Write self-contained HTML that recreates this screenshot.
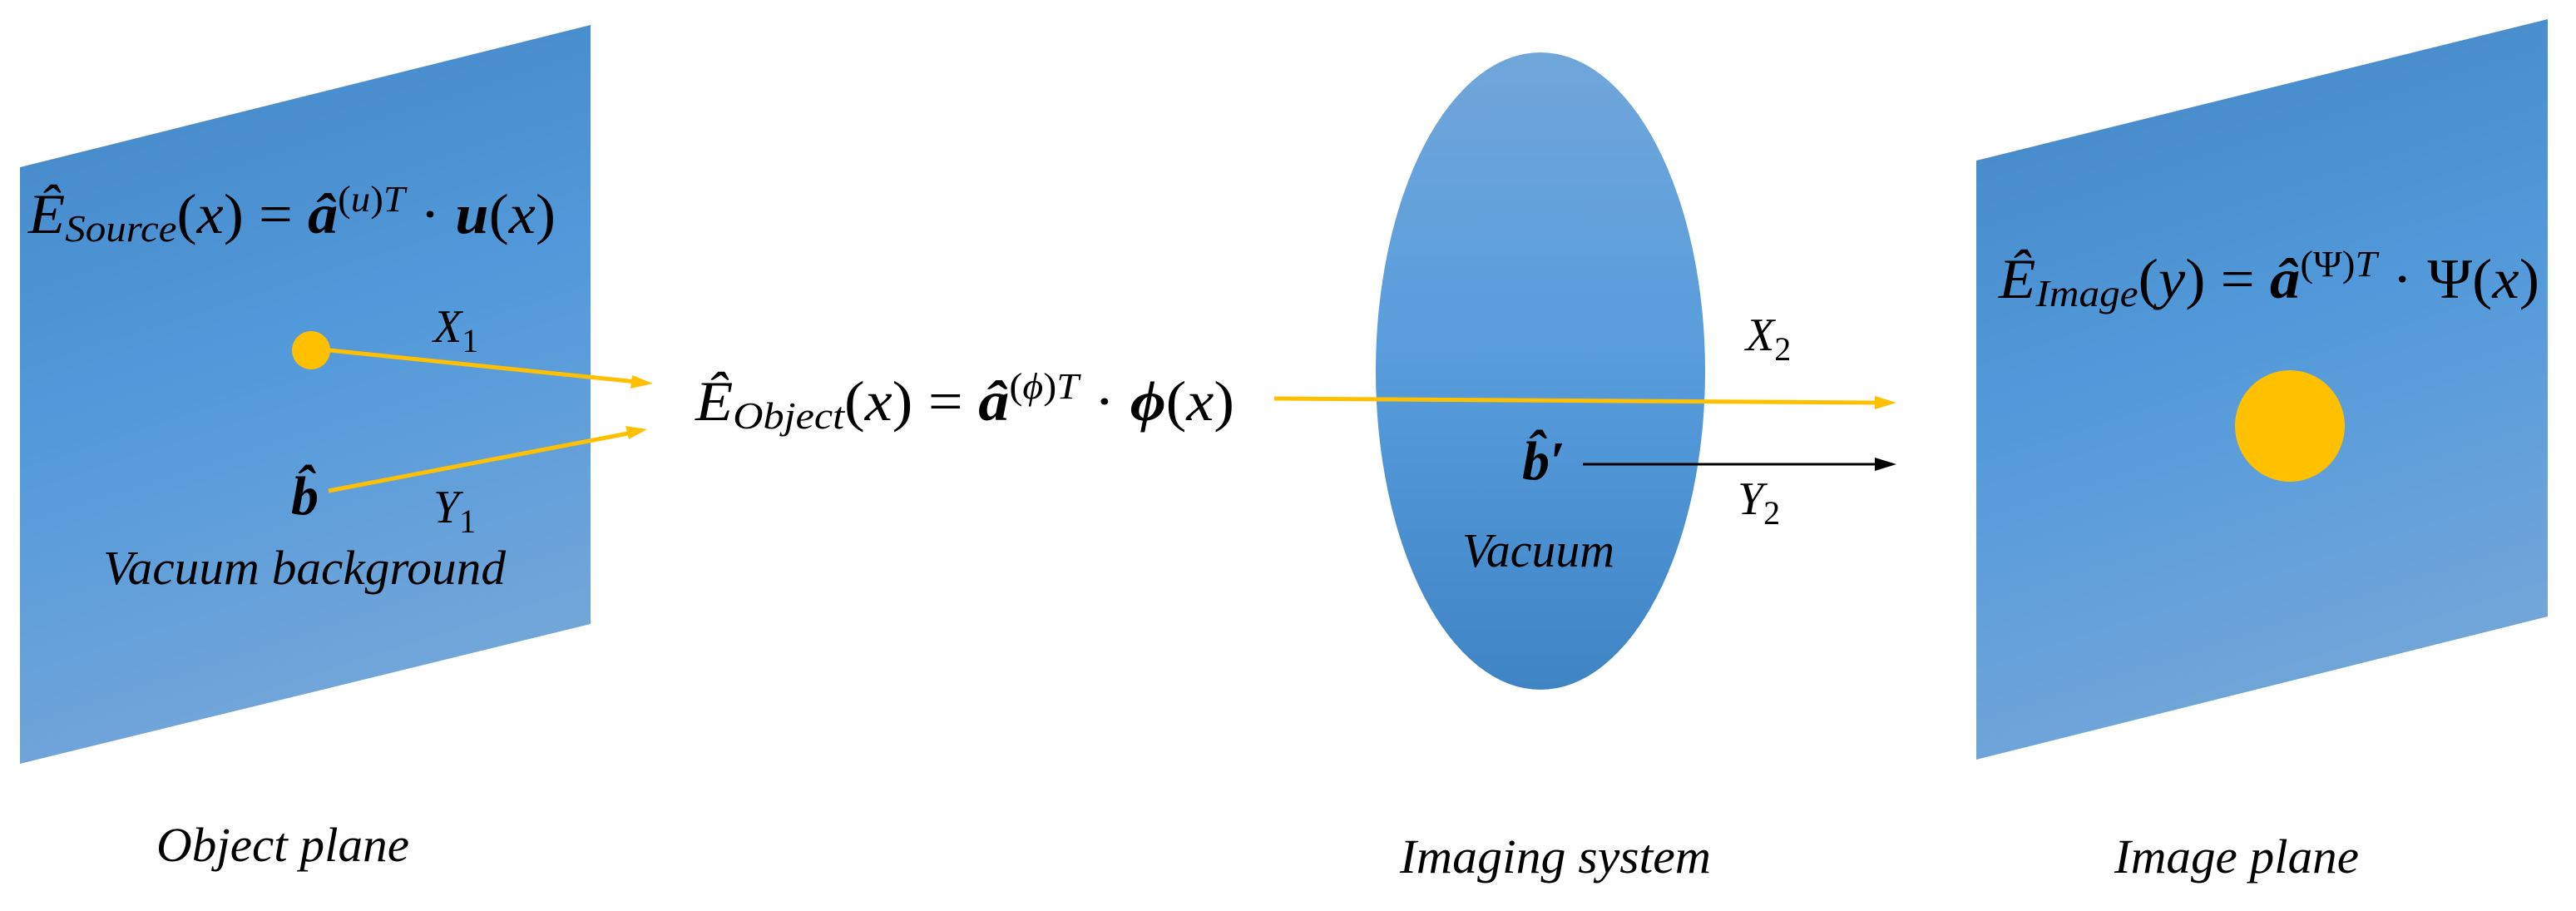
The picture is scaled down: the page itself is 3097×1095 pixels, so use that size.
<!DOCTYPE html>
<html><head><meta charset="utf-8"><style>
html,body{margin:0;padding:0;background:#fff;}
svg{display:block;}
svg text{font-family:"Liberation Serif","DejaVu Serif",serif;fill:#000;}
</style></head><body>
<svg width="3097" height="1095" viewBox="0 0 3097 1095" xmlns="http://www.w3.org/2000/svg" font-family="'Liberation Serif', 'DejaVu Serif', serif">
<defs>
<linearGradient id="pl" x1="0" y1="0" x2="0.25" y2="1">
<stop offset="0" stop-color="#4385c4"/><stop offset="0.5" stop-color="#5199da"/><stop offset="1" stop-color="#72a6d9"/>
</linearGradient>
<linearGradient id="el" x1="0" y1="0" x2="0" y2="1">
<stop offset="0" stop-color="#70a6da"/><stop offset="0.5" stop-color="#569cdc"/><stop offset="1" stop-color="#3f84c4"/>
</linearGradient>
</defs>
<polygon points="24,201 710,30 710,750 24,918" fill="url(#pl)"/>
<polygon points="2376,193 3063,23 3063,741 2376,913" fill="url(#pl)"/>
<ellipse cx="1852" cy="446" rx="198" ry="383" fill="url(#el)"/>

<circle cx="374" cy="421" r="23" fill="#ffc000"/>
<ellipse cx="2753" cy="512" rx="66" ry="67" fill="#ffc000"/>

<g stroke="#ffc000" stroke-width="5" fill="none">
<line x1="396" y1="421" x2="765" y2="459"/>
<line x1="395" y1="590" x2="760" y2="520"/>
<line x1="1532" y1="479" x2="2255" y2="484"/>
</g>
<polygon points="785,461 760,451 758,467" fill="#ffc000"/>
<polygon points="778,516 752,512 756,528" fill="#ffc000"/>
<polygon points="2280,484 2254,476 2254,492" fill="#ffc000"/>
<line x1="1903" y1="558" x2="2255" y2="558" stroke="#000" stroke-width="3"/>
<polygon points="2280,558 2254,550 2254,566" fill="#000"/>

<text x="34" y="280" font-size="68" textLength="634" lengthAdjust="spacingAndGlyphs"><tspan font-style="italic">Ê</tspan><tspan font-style="italic" font-size="46" dy="10">Source</tspan><tspan dy="-10">(</tspan><tspan font-style="italic">x</tspan>) = <tspan font-weight="bold" font-style="italic">â</tspan><tspan font-size="44" dy="-26">(<tspan font-style="italic">u</tspan>)<tspan font-style="italic">T</tspan></tspan><tspan dy="26"> · </tspan><tspan font-weight="bold" font-style="italic">u</tspan>(<tspan font-style="italic">x</tspan>)</text>

<text x="836" y="505" font-size="68" textLength="648" lengthAdjust="spacingAndGlyphs"><tspan font-style="italic">Ê</tspan><tspan font-style="italic" font-size="46" dy="10">Object</tspan><tspan dy="-10">(</tspan><tspan font-style="italic">x</tspan>) = <tspan font-weight="bold" font-style="italic">â</tspan><tspan font-size="44" dy="-26">(<tspan font-style="italic">ϕ</tspan>)<tspan font-style="italic">T</tspan></tspan><tspan dy="26"> · </tspan><tspan font-weight="bold" font-style="italic">ϕ</tspan>(<tspan font-style="italic">x</tspan>)</text>

<text x="2403" y="358" font-size="68" textLength="650" lengthAdjust="spacingAndGlyphs"><tspan font-style="italic">Ê</tspan><tspan font-style="italic" font-size="46" dy="10">Image</tspan><tspan dy="-10">(</tspan><tspan font-style="italic">y</tspan>) = <tspan font-weight="bold" font-style="italic">â</tspan><tspan font-size="44" dy="-26">(Ψ)<tspan font-style="italic">T</tspan></tspan><tspan dy="26"> · </tspan>Ψ(<tspan font-style="italic">x</tspan>)</text>

<text x="521" y="411" font-size="56" font-style="italic">X<tspan font-style="normal" font-size="40" dy="12">1</tspan></text>
<text x="521" y="628" font-size="56" font-style="italic">Y<tspan font-style="normal" font-size="40" dy="12">1</tspan></text>
<text x="350" y="618" font-size="66" font-style="italic" font-weight="bold">b̂</text>
<text x="2099" y="421" font-size="56" font-style="italic">X<tspan font-style="normal" font-size="40" dy="12">2</tspan></text>
<text x="2089" y="618" font-size="56" font-style="italic">Y<tspan font-style="normal" font-size="40" dy="12">2</tspan></text>
<text x="1830" y="576" font-size="66" font-style="italic" font-weight="bold">b̂′</text>

<text x="124" y="702" font-size="58" font-style="italic" textLength="484" lengthAdjust="spacingAndGlyphs">Vacuum background</text>
<text x="1758" y="681" font-size="58" font-style="italic" textLength="183" lengthAdjust="spacingAndGlyphs">Vacuum</text>
<text x="188" y="1035" font-size="58" font-style="italic" textLength="304" lengthAdjust="spacingAndGlyphs">Object plane</text>
<text x="1683" y="1049" font-size="58" font-style="italic" textLength="374" lengthAdjust="spacingAndGlyphs">Imaging system</text>
<text x="2542" y="1049" font-size="58" font-style="italic" textLength="294" lengthAdjust="spacingAndGlyphs">Image plane</text>
</svg>
</body></html>
